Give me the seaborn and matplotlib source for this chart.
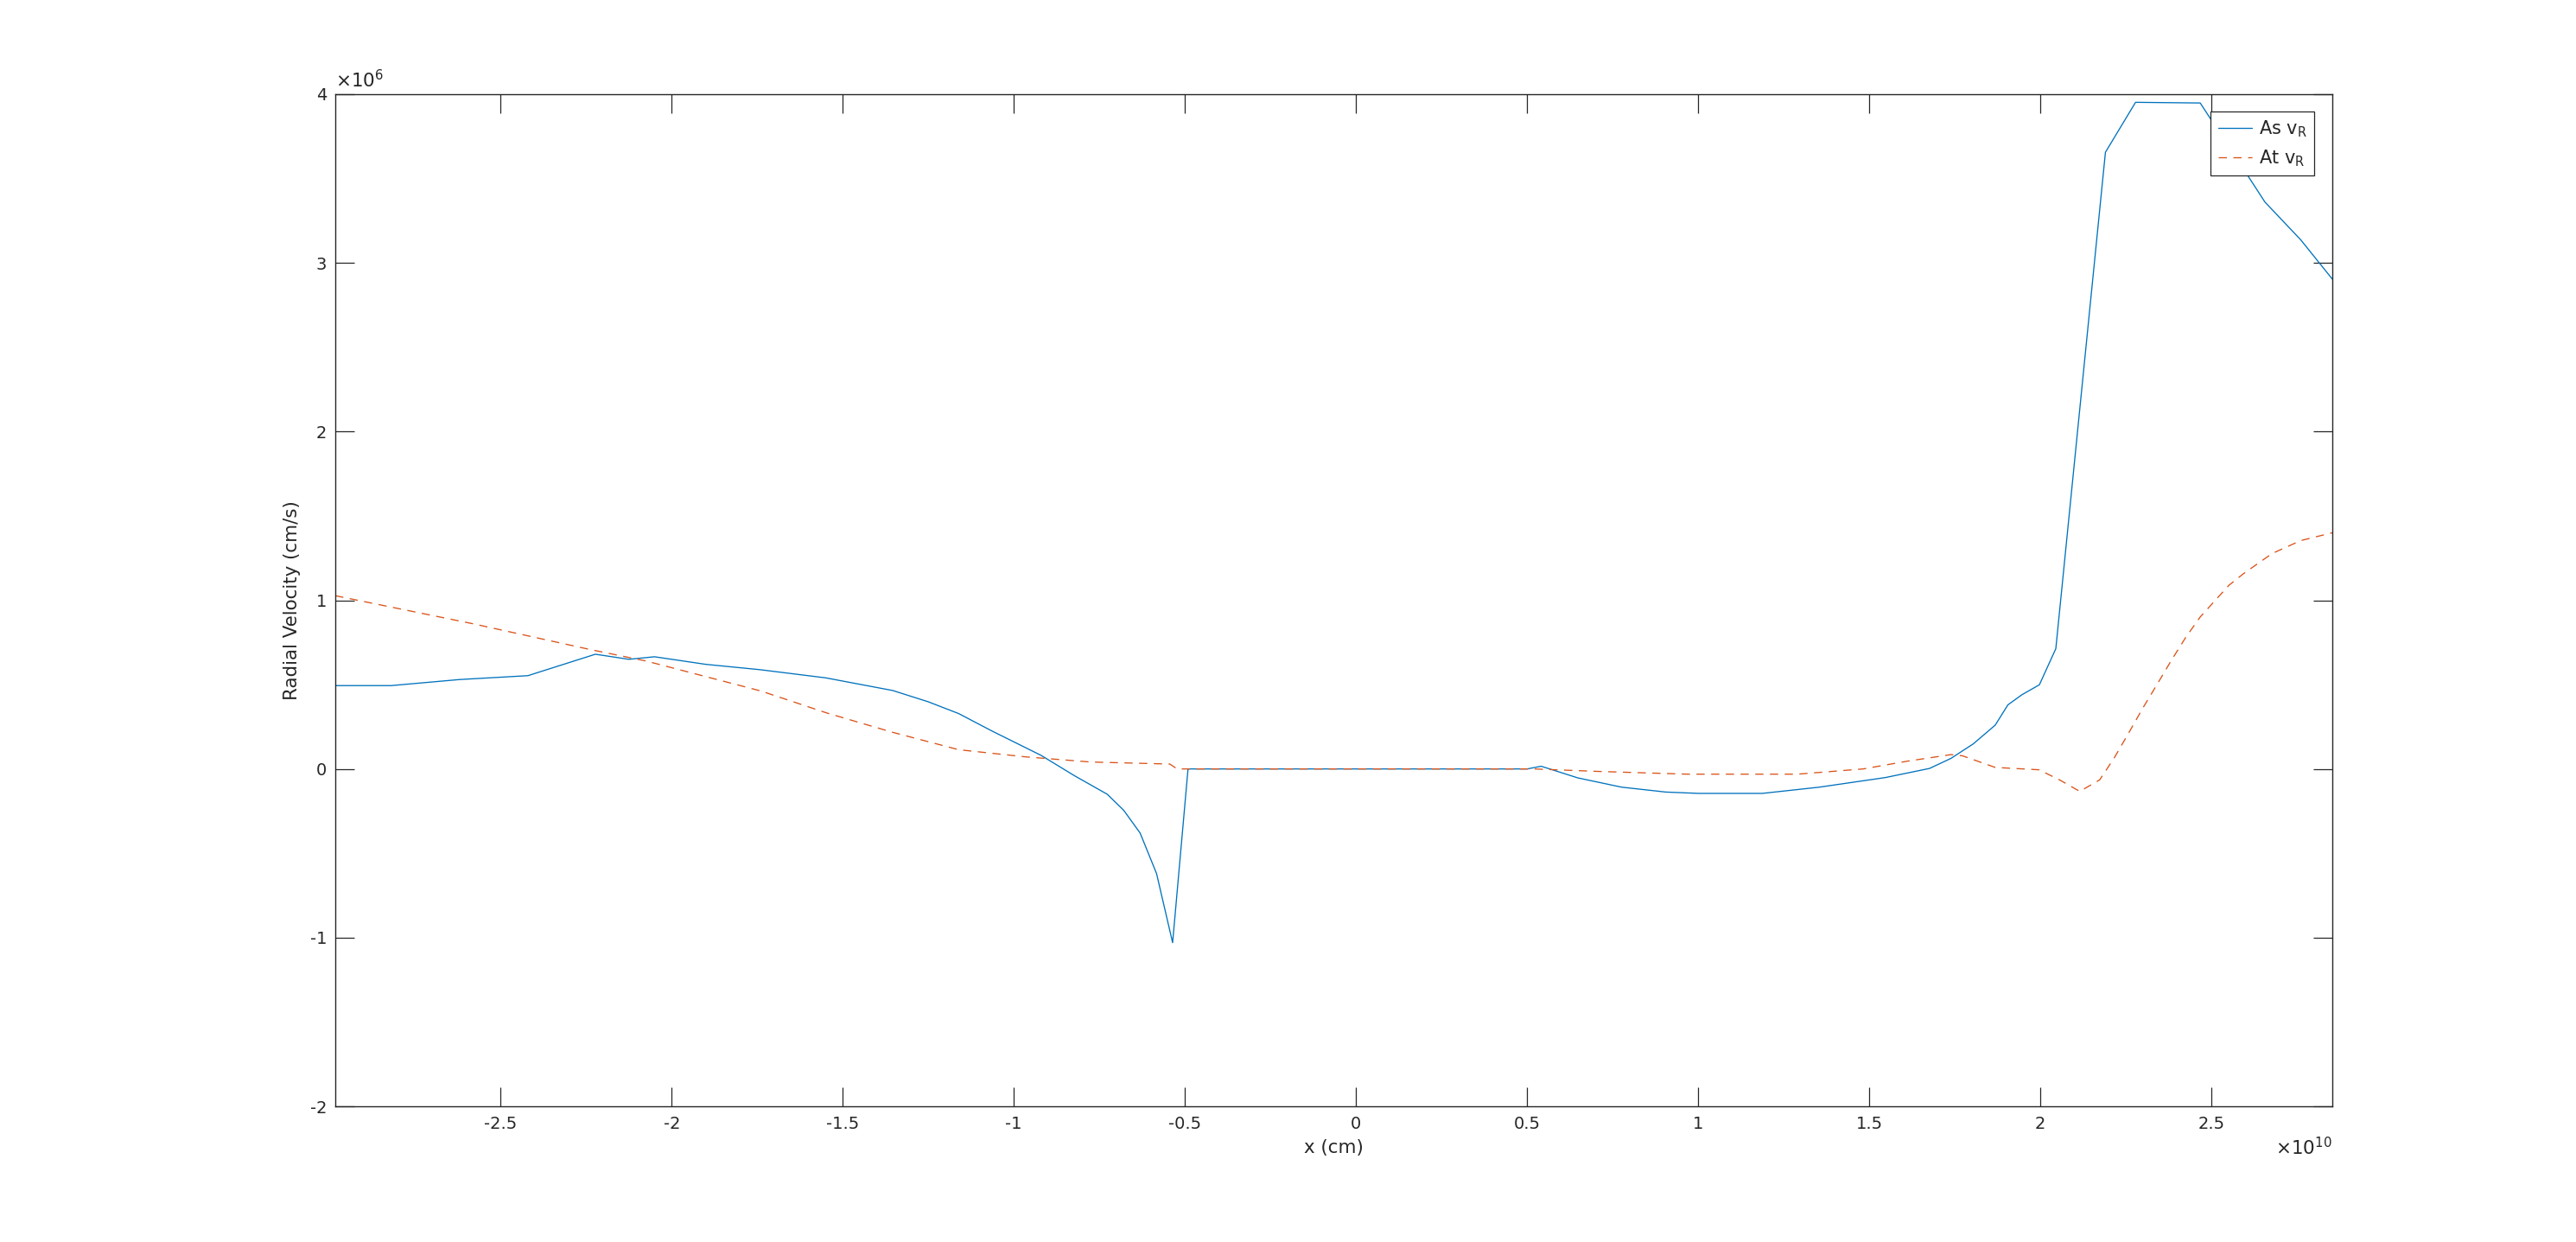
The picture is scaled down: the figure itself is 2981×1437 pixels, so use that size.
import numpy as np
import pandas as pd
import matplotlib
matplotlib.use("Agg")
import matplotlib.pyplot as plt
import seaborn as sns
from matplotlib.ticker import FuncFormatter

# ---- data (x in units of 1e10 cm, velocity in units of 1e6 cm/s) ----
as_x = [-2.983, -2.82, -2.62, -2.42, -2.223, -2.125, -2.05, -1.9, -1.74, -1.55,
        -1.354, -1.25, -1.161, -1.064, -0.92, -0.823, -0.727, -0.679, -0.631,
        -0.583, -0.536, -0.491, 0.50, 0.541, 0.648, 0.776, 0.905, 1.001, 1.187,
        1.354, 1.547, 1.676, 1.739, 1.804, 1.868, 1.905, 1.946, 1.997, 2.045,
        2.19, 2.278, 2.467, 2.501, 2.593, 2.656, 2.761, 2.853]
as_v = [0.494, 0.494, 0.53, 0.553, 0.68, 0.65, 0.665, 0.62, 0.588, 0.54,
        0.465, 0.398, 0.328, 0.225, 0.08, -0.04, -0.15, -0.245, -0.38,
        -0.62, -1.03, 0.0, 0.0, 0.016, -0.053, -0.108, -0.137, -0.145, -0.145,
        -0.108, -0.051, 0.003, 0.063, 0.149, 0.26, 0.38, 0.44, 0.499, 0.713,
        3.656, 3.952, 3.948, 3.842, 3.558, 3.361, 3.136, 2.904]

at_x = [-2.983, -2.579, -2.243, -2.075, -1.739, -1.547, -1.354, -1.161, -0.968,
        -0.775, -0.544, -0.523, 0.519, 0.712, 0.969, 1.29, 1.482, 1.611, 1.739,
        1.772, 1.868, 1.996, 2.056, 2.115, 2.173, 2.215, 2.257, 2.299, 2.342,
        2.383, 2.425, 2.467, 2.509, 2.551, 2.593, 2.635, 2.677, 2.761, 2.853]
at_v = [1.027, 0.86, 0.71, 0.64, 0.462, 0.332, 0.217, 0.114, 0.072,
        0.041, 0.029, 0.0, 0.0, -0.015, -0.031, -0.031, 0.0, 0.046, 0.085,
        0.078, 0.009, -0.005, -0.065, -0.133, -0.065, 0.063, 0.21, 0.36, 0.505,
        0.645, 0.781, 0.901, 0.995, 1.089, 1.157, 1.217, 1.277, 1.354, 1.4]

x_ticks = [-2.5, -2, -1.5, -1, -0.5, 0, 0.5, 1, 1.5, 2, 2.5]
y_ticks = [-2, -1, 0, 1, 2, 3, 4]
x_lim = [-2.983, 2.853]
y_lim = [-2, 4]
X_SCALE = 1e10
Y_SCALE = 1e6

sns.set_theme(style="ticks")
plt.rcParams["font.family"] = ["DejaVu Sans"]
plt.rcParams["axes.unicode_minus"] = False
plt.rcParams["mathtext.fontset"] = "dejavusans"

df_as = pd.DataFrame({"x": np.array(as_x) * X_SCALE, "v": np.array(as_v) * Y_SCALE})
df_at = pd.DataFrame({"x": np.array(at_x) * X_SCALE, "v": np.array(at_v) * Y_SCALE})

fig = plt.figure(figsize=(29.81, 14.37), dpi=100)
W, H = 2981, 1437
L, R, T, B = 388, 2699, 109, 1280
ax = fig.add_axes([L / W, 1 - B / H, (R - L) / W, (B - T) / H])

blue = "#0072BD"
orange = "#D95319"
dark = "#262626"

sns.lineplot(data=df_as, x="x", y="v", ax=ax, color=blue, linewidth=0.95,
             sort=False, estimator=None, label="As v$_{\\mathrm{R}}$")
sns.lineplot(data=df_at, x="x", y="v", ax=ax, color=orange, linewidth=0.95,
             sort=False, estimator=None, linestyle=(0, (7.2, 5.7)),
             label="At v$_{\\mathrm{R}}$")

ax.set_xlim(x_lim[0] * X_SCALE, x_lim[1] * X_SCALE)
ax.set_ylim(y_lim[0] * Y_SCALE, y_lim[1] * Y_SCALE)
ax.set_xticks([t * X_SCALE for t in x_ticks])
ax.set_yticks([t * Y_SCALE for t in y_ticks])
ax.xaxis.set_major_formatter(FuncFormatter(lambda v, p: "%g" % round(v / X_SCALE, 6)))
ax.yaxis.set_major_formatter(FuncFormatter(lambda v, p: "%g" % round(v / Y_SCALE, 6)))

for s in ax.spines.values():
    s.set_visible(True)
    s.set_color(dark)
    s.set_linewidth(1.0)

ax.tick_params(axis="both", which="major", direction="in", length=15.5, width=0.9,
               color=dark, labelcolor=dark, labelsize=14, top=True, right=True)
ax.tick_params(axis="x", pad=8)
ax.tick_params(axis="y", pad=7)

ax.set_xlabel("x (cm)", fontsize=15.4, color=dark, labelpad=6)
ax.set_ylabel("Radial Velocity (cm/s)", fontsize=15.4, color=dark, labelpad=8)

ax.text(0.0, 1.003, "$\\times10^{6}$", transform=ax.transAxes, ha="left",
        va="bottom", fontsize=15.5, color=dark)
ax.text(1.0, -0.030, "$\\times10^{10}$", transform=ax.transAxes, ha="right",
        va="top", fontsize=15.5, color=dark)

leg = ax.legend(loc="upper right", bbox_to_anchor=(1 - 21 / (R - L), 1 - 20 / (B - T)),
                borderaxespad=0, fontsize=15, frameon=True, fancybox=False,
                handlelength=1.9, handletextpad=0.35, borderpad=0.4,
                labelspacing=0.5)
leg.get_frame().set_edgecolor(dark)
leg.get_frame().set_linewidth(0.9)
leg.get_frame().set_alpha(1.0)
for t in leg.get_texts():
    t.set_color(dark)

ax.set_facecolor("white")
fig.patch.set_facecolor("white")
fig.savefig("out.png", dpi=100)
